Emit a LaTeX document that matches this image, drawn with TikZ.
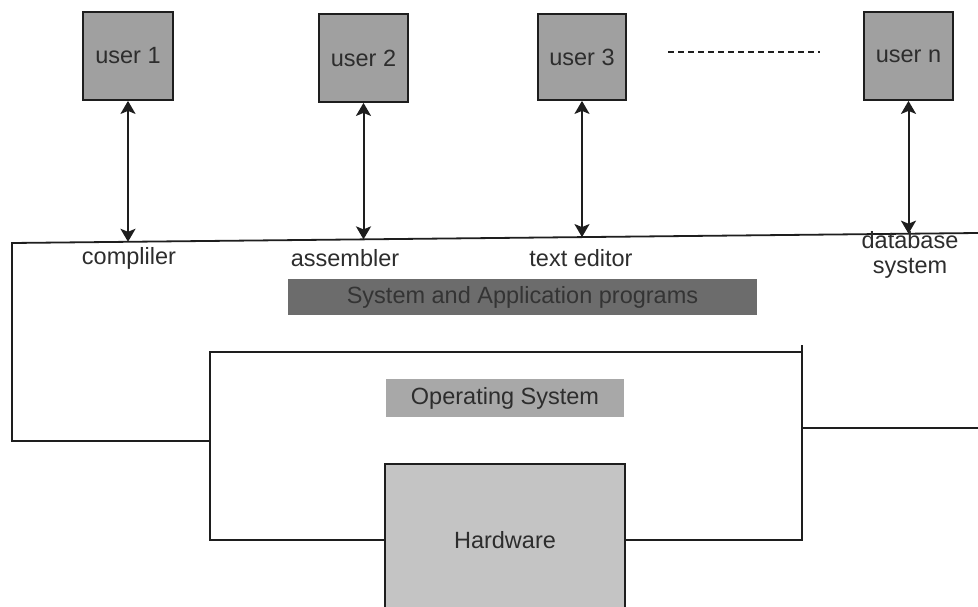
\documentclass[tikz,border=0pt]{standalone}
\usepackage{fontspec}
\setmainfont{Liberation Sans}
\usetikzlibrary{arrows.meta,calc}
\definecolor{txt}{RGB}{45,45,45}
\definecolor{ln}{RGB}{30,30,30}
\definecolor{userfill}{RGB}{160,160,160}
\definecolor{sapfill}{RGB}{108,108,108}
\definecolor{sapt}{RGB}{52,52,52}
\definecolor{osfill}{RGB}{168,168,168}
\definecolor{hwfill}{RGB}{196,196,196}
\tikzset{
  userbox/.style={draw=ln, line width=1.8pt, fill=userfill, text=txt, inner sep=0pt,
    font=\fontsize{23.5}{27}\selectfont},
  lbl/.style={text=txt, inner sep=0pt, font=\fontsize{23.5}{27}\selectfont, align=center},
  layer/.style={draw=none, inner sep=0pt, font=\fontsize{23.5}{27}\selectfont},
  wire/.style={draw=ln, line width=1.8pt},
  biarrow/.style={draw=ln, line width=2pt, {Stealth[length=13pt,width=15pt,inset=3pt]}-{Stealth[length=13pt,width=15pt,inset=3pt]}},
}
\begin{document}
\begin{tikzpicture}[x=1pt,y=-1pt]
\clip (0,0) rectangle (978,607);
\fill[white] (0,0) rectangle (978,607);

% users
\node[userbox, minimum width=90pt, minimum height=88pt] (u1) at (128,56) {user 1};
\node[userbox, minimum width=89pt, minimum height=88pt] (u2) at (363.5,58) {user 2};
\node[userbox, minimum width=88pt, minimum height=86pt] (u3) at (582,57) {user 3};
\node[userbox, minimum width=89pt, minimum height=88pt] (un) at (908.5,56) {user n};
\coordinate (d1) at (668,52);
\coordinate (d2) at (820,52);
\draw[ln, line width=1.4pt, dash pattern=on 6pt off 4pt] (d1) -- (d2);

% slanted top line and outer frame
\coordinate (tl) at (12,243);
\coordinate (tr) at (978,233);
\coordinate (bl) at (12,441);
\coordinate (ob) at (210,441);
\draw[wire] (ob) -- (bl) -- (tl) -- (tr);

% arrow ends on the top line
\coordinate (c1) at (128,241.8);
\coordinate (c2) at (363.5,239.4);
\coordinate (c3) at (582,237.1);
\coordinate (cn) at (908.5,233.7);
\draw[biarrow] (u1.south) -- (c1);
\draw[biarrow] (u2.south) -- (c2);
\draw[biarrow] (u3.south) -- (c3);
\draw[biarrow] (un.south) -- (cn);

% labels
\node[lbl] (l1) at (129,258) {compliler};
\node[lbl] (l2) at (345,258) {assembler};
\node[lbl] (l3) at (581,258) {text editor};
\node[lbl, font=\fontsize{23.5}{25.5}\selectfont] (l4) at (910,255) {database\\system};

% layers
\node[layer, fill=sapfill, text=sapt, minimum width=469pt, minimum height=36pt] (sap) at (522.5,297) {System and Application programs};
\node[layer, fill=osfill, text=txt, minimum width=238pt, minimum height=38pt] (os) at (505,398) {Operating System};
\node[draw=ln, line width=1.8pt, fill=hwfill, text=txt, inner sep=0pt, minimum width=240pt, minimum height=152pt,
  font=\fontsize{23.5}{27}\selectfont] (hw) at (505,540) {Hardware};

% inner frame
\coordinate (itl) at (210,352);
\coordinate (itr) at (802,352);
\coordinate (irt) at (802,345);
\coordinate (ibl) at (210,540);
\coordinate (ibr) at (802,540);
\coordinate (rm) at (802,428);
\coordinate (re) at (978,428);
\draw[wire] (hw.west) -- (ibl) -- (itl) -- (itr);
\draw[wire] (irt) -- (ibr) -- (hw.east);
\draw[wire] (rm) -- (re);
\end{tikzpicture}
\end{document}
